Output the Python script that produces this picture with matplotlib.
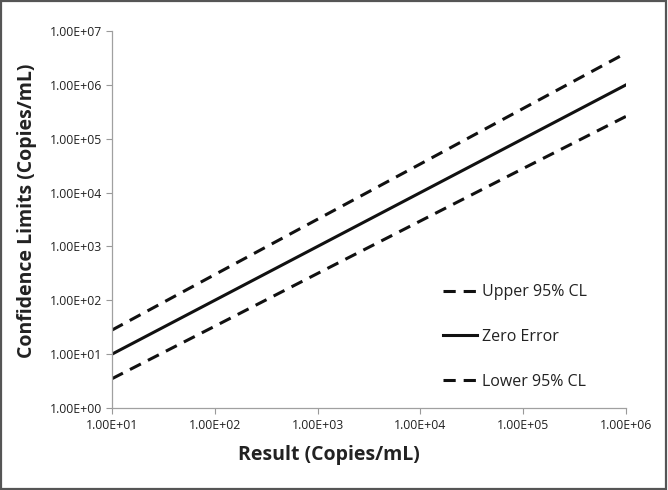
import numpy as np
import matplotlib.pyplot as plt
from matplotlib.patches import Rectangle

# values (one point per decade)
result = [1e1, 1e2, 1e3, 1e4, 1e5, 1e6]
zero_error = [1e1, 1e2, 1e3, 1e4, 1e5, 1e6]
upper_cl = [28, 300, 3200, 3.4e4, 3.65e5, 3.9e6]
lower_cl = [3.5, 33, 315, 2970, 2.8e4, 2.6e5]

x_ticks = [1e1, 1e2, 1e3, 1e4, 1e5, 1e6]
y_ticks = [1e0, 1e1, 1e2, 1e3, 1e4, 1e5, 1e6, 1e7]

plt.rcParams['font.family'] = ['Open Sans', 'DejaVu Sans']

fig = plt.figure(figsize=(6.68, 4.90), dpi=100)
ax = fig.add_axes([112 / 668, 1 - 408 / 490, (626 - 112) / 668, (408 - 31) / 490])

lw = 2.2
ax.plot(result, upper_cl, color='#111111', lw=lw, dashes=(4, 2.6), label='Upper 95% CL')
ax.plot(result, zero_error, color='#111111', lw=lw, label='Zero Error')
ax.plot(result, lower_cl, color='#111111', lw=lw, dashes=(4, 2.6), label='Lower 95% CL')

ax.set_xscale('log')
ax.set_yscale('log')
ax.set_xlim(1e1, 1e6)
ax.set_ylim(1e0, 1e7)
ax.set_xticks(x_ticks)
ax.set_yticks(y_ticks)
ax.minorticks_off()
ax.set_xticklabels(['%.2E' % v for v in x_ticks])
ax.set_yticklabels(['%.2E' % v for v in y_ticks])
ax.tick_params(labelsize=8.8, colors='#999999', labelcolor='#222222', length=4, width=0.8)
ax.tick_params(axis='x', pad=4)
ax.tick_params(axis='y', pad=3)

for s in ['top', 'right']:
    ax.spines[s].set_visible(False)
for s in ['left', 'bottom']:
    ax.spines[s].set_color('#a0a0a0')
    ax.spines[s].set_linewidth(0.9)

ax.set_xlabel('Result (Copies/mL)', fontsize=14, fontweight='bold', color='#222222')
ax.set_ylabel('Confidence Limits (Copies/mL)', fontsize=14, fontweight='bold', color='#222222')
ax.xaxis.set_label_coords(0.422, -0.098)
ax.yaxis.set_label_coords(-0.146, 0.5225)

leg = fig.legend(loc='center left', bbox_to_anchor=(443 / 668, 1 - 337 / 490), frameon=False,
                 fontsize=11.5, handlelength=2.1, handletextpad=0.35, labelspacing=1.8, borderpad=0,
                 borderaxespad=0)
for t in leg.get_texts():
    t.set_color('#222222')

fig.patches.append(Rectangle((0.002, 0.003), 0.995, 0.994, transform=fig.transFigure,
                             fill=False, edgecolor='#555555', linewidth=1.6))

fig.savefig('out.png', dpi=100)
